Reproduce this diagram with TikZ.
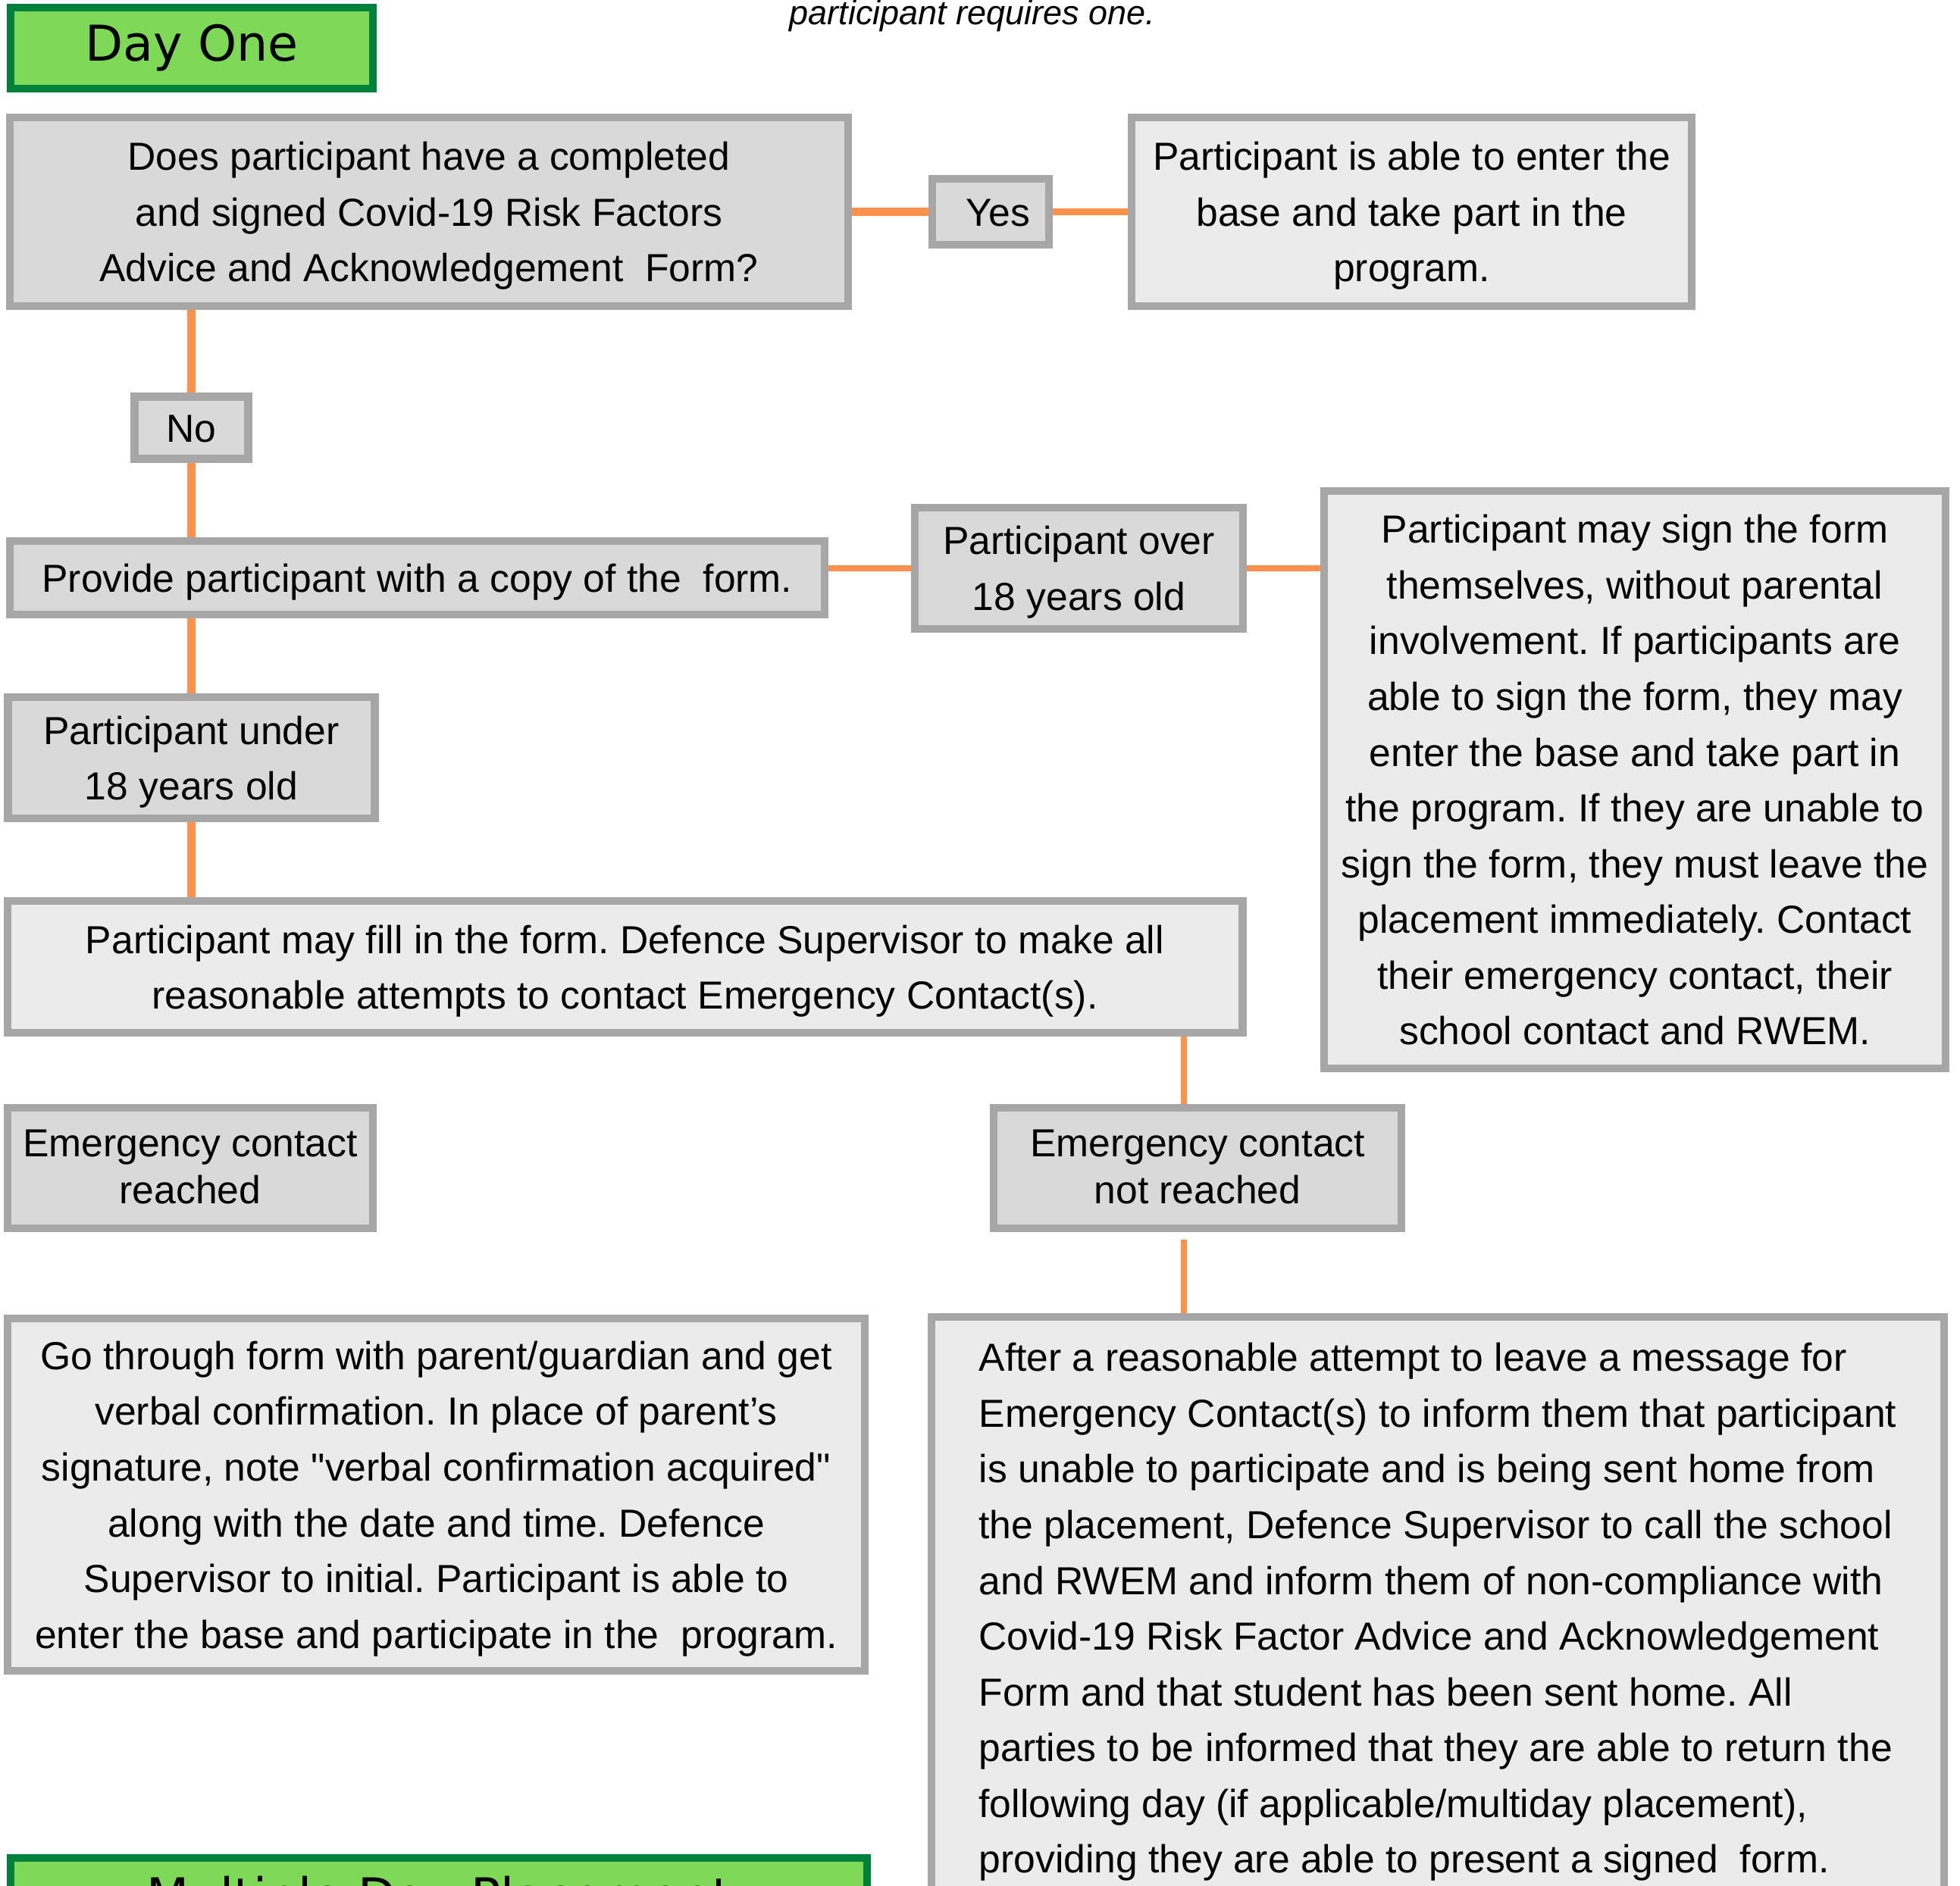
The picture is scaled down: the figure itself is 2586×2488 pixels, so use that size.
\documentclass[tikz,border=0pt]{standalone}
\usepackage{fontspec}
\setmainfont{Liberation Sans}
\newfontfamily\dvfont{DejaVu Sans}
\frenchspacing
\definecolor{bordergray}{HTML}{A6A6A6}
\definecolor{fillD}{HTML}{D9D9D9}
\definecolor{fillL}{HTML}{EBEBEB}
\definecolor{lgreen}{HTML}{7ED957}
\definecolor{dgreen}{HTML}{00803A}
\definecolor{orangeln}{HTML}{FF914D}
\newcommand\mainsz{\fontsize{14.68}{20.91}\selectfont}
\newcommand\tightsz{\fontsize{14.68}{17.64}\selectfont}
\newcommand\mytabc[1]{\begin{tabular}{@{}c@{}}\rule{0pt}{\dimexpr\ht\strutbox+2.3pt\relax}#1\end{tabular}}
\newcommand\mytabl[1]{\begin{tabular}{@{}l@{}}\rule{0pt}{\dimexpr\ht\strutbox+2.3pt\relax}#1\end{tabular}}
\begin{document}
\begin{tikzpicture}[x=0.01cm,y=-0.01cm,
  box/.style={draw=bordergray, line width=0.105cm, inner sep=0pt, font=\mainsz, align=center},
  dark/.style={box, fill=fillD},
  light/.style={box, fill=fillL},
  greenbox/.style={draw=dgreen, fill=lgreen, line width=0.105cm, inner sep=0pt, font=\dvfont\fontsize{18.5}{22}\selectfont},
  conn/.style={draw=orangeln, line width=0.085cm},
  connT/.style={draw=orangeln, line width=0.11cm}]
\useasboundingbox (0,0) rectangle (2586,2488);
\clip (0,0) rectangle (2586,2488);

% note text at top
\node[font=\itshape\fontsize{12.8}{15}\selectfont, anchor=base, inner sep=0pt] (note) at (1283,33) {participant requires one.};

% headings
\node[greenbox, minimum width=4.775cm, minimum height=1.065cm] (dayone) at (253,63.5) {Day One};
\node[greenbox, minimum width=11.295cm, minimum height=1.12cm] (multi) at (579,2508) {Multiple Day Placement};

% boxes
\node[dark, minimum width=11.055cm, minimum height=2.485cm] (q) at (566,279.5)
  {\mytabc{Does participant have a completed\\ and signed Covid-19 Risk Factors\\ Advice and Acknowledgement\ \ Form?}};
\node[dark, minimum width=1.535cm, minimum height=0.865cm] (yes) at (1307,279.5) {\mytabc{\hspace*{0.2cm}Yes}};
\node[light, minimum width=7.385cm, minimum height=2.485cm] (tr) at (1862.5,279.5)
  {\mytabc{Participant is able to enter the\\ base and take part in the\\ program.}};
\node[dark, minimum width=1.495cm, minimum height=0.805cm] (no) at (252.5,564.5) {\mytabc{No}};
\node[dark, minimum width=10.745cm, minimum height=0.965cm] (prov) at (550.5,762.5)
  {\mytabc{Provide participant with a copy of the\ \ form.}};
\node[dark, minimum width=4.325cm, minimum height=1.595cm] (over) at (1423.5,750)
  {\mytabc{Participant over\\ 18 years old}};
\node[light, minimum width=8.195cm, minimum height=7.615cm] (br) at (2157,1029)
  {\mytabc{Participant may sign the form\\ themselves, without parental\\ involvement. If participants are\\ able to sign the form, they may\\ enter the base and take part in\\ the program. If they are unable to\\ sign the form, they must leave the\\ placement immediately. Contact\\ their emergency contact, their\\ school contact and RWEM.}};
\node[dark, minimum width=4.835cm, minimum height=1.595cm] (under) at (252.5,1000)
  {\mytabc{Participant under\\ 18 years old}};
\node[light, minimum width=16.285cm, minimum height=1.735cm] (may) at (824.5,1276)
  {\mytabc{Participant may fill in the form. Defence Supervisor to make all\\ reasonable attempts to contact Emergency Contact(s).}};
\node[dark, font=\tightsz, minimum width=4.815cm, minimum height=1.585cm] (reached) at (251,1541.5)
  {\mytabc{Emergency contact\\ reached}};
\node[dark, font=\tightsz, minimum width=5.375cm, minimum height=1.585cm] (nr) at (1580,1541.5)
  {\mytabc{Emergency contact\\ not reached}};
\node[light, minimum width=11.305cm, minimum height=4.645cm] (go) at (575.5,1972.5)
  {\mytabc{Go through form with parent/guardian and get\\ verbal confirmation. In place of parent’s\\ signature, note \textquotedbl verbal confirmation acquired\textquotedbl\\ along with the date and time. Defence\\ Supervisor to initial. Participant is able to\\ enter the base and participate in the\ \ program.}};
\node[light, minimum width=13.355cm, minimum height=7.675cm] (after) at (1897,2122)
  {\mytabl{After a reasonable attempt to leave a message for\\ Emergency Contact(s) to inform them that participant\\ is unable to participate and is being sent home from\\ the placement, Defence Supervisor to call the school\\ and RWEM and inform them of non-compliance with\\ Covid-19 Risk Factor Advice and Acknowledgement\\ Form and that student has been sent home. All\\ parties to be informed that they are able to return the\\ following day (if applicable/multiday placement),\\ providing they are able to present a signed\ \ form.}};

% connectors
\draw[connT] (q.east) -- (yes.west);
\draw[conn] (yes.east) -- (tr.west);
\draw[connT] (no.north |- q.south) -- (no.north);
\draw[connT] (no.south) -- (no.south |- prov.north);
\draw[connT] (under.north |- prov.south) -- (under.north);
\draw[connT] (under.south) -- (under.south |- may.north);
\draw[conn] (prov.east |- over.west) -- (over.west);
\draw[conn] (over.east) -- (over.east -| br.west);
\coordinate (cx) at (1562,1400);
\draw[conn] (cx |- may.south) -- (cx |- nr.north);
\draw[conn, shorten <=0.1cm] (cx |- nr.south) -- (cx |- after.north);
\end{tikzpicture}
\end{document}
